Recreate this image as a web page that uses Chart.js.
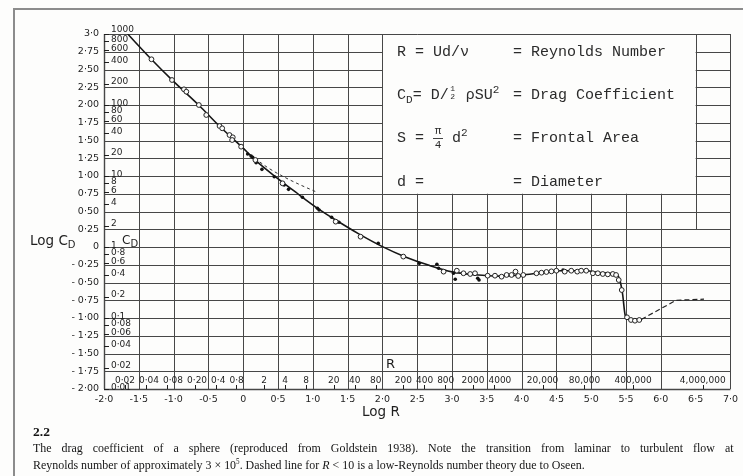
<!DOCTYPE html>
<html>
<head>
<meta charset="utf-8">
<script src="https://cdn.jsdelivr.net/npm/chart.js@4.4.0/dist/chart.umd.min.js"></script>
<style>
  html, body { margin: 0; padding: 0; background: #fff; }
  #page { position: relative; width: 743px; height: 476px; overflow: hidden; background: #fdfdfc; }
  #frame { position: absolute; left: 13px; top: 8px; width: 800px; height: 520px;
           border-top: 2px solid #8c8c8c; border-left: 2px solid #8c8c8c; }
  #chart { position: absolute; left: 0; top: 0; }
  .hand { position: absolute; font-family: "DejaVu Sans", sans-serif; color: #1e1e1e; white-space: nowrap; }
  .hand sub { font-size: 10px; position: relative; top: 3px; vertical-align: baseline; }
  .mono { position: absolute; font-family: "Liberation Mono", monospace; font-size: 15px;
          line-height: 15px; color: #2b2b2b; white-space: nowrap; }
  .mono .sub { font-size: 11px; position: relative; top: 4px; }
  .mono .sup { font-size: 11px; position: relative; top: -6px; }
  .frac { display: inline-block; position: relative; height: 0; vertical-align: baseline; }
  .frac .n, .frac .d { position: absolute; left: 0; width: 100%; text-align: center; }
  .frac .bar { position: absolute; left: 0; width: 100%; height: 1px; background: #444; }
  .caption { position: absolute; left: 33px; font-family: "Liberation Serif", serif; font-size: 13.5px;
             line-height: 17px; color: #151515; white-space: nowrap; transform-origin: 0 0; }
</style>
</head>
<body>
<div id="page">
  <div id="frame"></div>
  <canvas id="chart" width="743" height="476"></canvas>

  <!-- definitions printed inside the blank panel -->
  <div class="mono" style="left:397px; top:45px">R = Ud/ν</div>
  <div class="mono" style="left:513px; top:45px">= Reynolds Number</div>
  <div class="mono" style="left:397px; top:88px">C<span class="sub">D</span>= D/<span class="frac" style="width:8px"><span class="n" style="font-size:8px;line-height:8px;top:-14px">1</span><span class="bar" style="top:-6px;height:0"></span><span class="d" style="font-size:8px;line-height:8px;top:-6px">2</span></span> ρSU<span class="sup">2</span></div>
  <div class="mono" style="left:513px; top:88px">= Drag Coefficient</div>
  <div class="mono" style="left:397px; top:131px">S = <span class="frac" style="width:10px"><span class="n" style="font-size:11px;line-height:11px;top:-16px">π</span><span class="bar" style="top:-4px"></span><span class="d" style="font-size:11px;line-height:11px;top:-2px">4</span></span> d<span class="sup">2</span></div>
  <div class="mono" style="left:513px; top:131px">= Frontal Area</div>
  <div class="mono" style="left:397px; top:175px">d =</div>
  <div class="mono" style="left:513px; top:175px">= Diameter</div>

  <!-- axis titles -->
  <div class="hand" style="left:30px; top:232px; font-size:13.5px">Log C<sub>D</sub></div>
  <div class="hand" style="left:122px; top:233px; font-size:12px">C<sub>D</sub></div>
  <div class="hand" style="left:386px; top:356px; font-size:13px">R</div>
  <div class="hand" style="left:362px; top:403px; font-size:13.5px">Log R</div>

  <!-- figure caption -->
  <div class="caption" id="cap0" style="top:423px; font-weight:bold">2.2</div>
  <div class="caption" id="cap1" style="top:439px">The drag coefficient of a sphere (reproduced from Goldstein 1938). Note the transition from laminar to turbulent flow at a</div>
  <div class="caption" id="cap2" style="top:456px">Reynolds number of approximately 3 × 10<sup style="font-size:8px;line-height:0">5</sup>. Dashed line for <i>R</i> &lt; 10 is a low-Reynolds number theory due to Oseen.</div>
</div>

<script>
// ===============================
// DATA (log10 R, log10 Cd)
// ===============================

const curveLogR  = [-1.66, -1.32, -1.02, -0.64, -0.34, -0.03, 0.19, 0.47, 0.75, 1.09, 1.33, 1.66, 2.0, 2.33, 2.66,
                    3.0, 3.33, 3.67, 4.0, 4.29, 4.57, 4.9, 5.19, 5.37, 5.41, 5.45, 5.49, 5.55, 5.64, 5.72];
const curveLogCd = [3.0, 2.645, 2.35, 2.0, 1.70, 1.42, 1.21, 0.985, 0.775, 0.53, 0.38, 0.185, 0.005, -0.14, -0.255,
                    -0.35, -0.39, -0.41, -0.395, -0.36, -0.335, -0.335, -0.365, -0.395, -0.46, -0.66, -0.97, -1.02, -1.038, -1.02];

// dashed continuation past the drag crisis
const wakeLogR  = [5.72, 6.22, 6.62];
const wakeLogCd = [-1.02, -0.75, -0.735];

// Oseen low-Reynolds theory (dashed)
const oseenLogR  = [0.1, 0.35, 0.6, 0.82, 1.04];
const oseenLogCd = [1.30, 1.12, 0.98, 0.875, 0.78];

// open circles
const openLogR  = [-1.318, -1.023, -0.851, -0.817, -0.637, -0.531, -0.34, -0.302, -0.197, -0.15, -0.159, -0.03,
                   0.175, 0.565, 1.329, 1.686, 2.3, 2.879, 3.069, 3.165, 3.261, 3.33, 3.512, 3.617, 3.712, 3.784,
                   3.855, 3.912, 3.951, 4.023, 4.213, 4.285, 4.356, 4.428, 4.499, 4.619, 4.713, 4.799, 4.856, 4.928,
                   5.023, 5.095, 5.166, 5.238, 5.31, 5.357, 5.395, 5.438, 5.514, 5.571, 5.628, 5.69];
const openLogCd = [2.644, 2.352, 2.221, 2.187, 2.0, 1.859, 1.704, 1.672, 1.577, 1.545, 1.507, 1.413,
                   1.225, 0.897, 0.357, 0.145, -0.135, -0.347, -0.334, -0.37, -0.38, -0.37, -0.404, -0.404, -0.418, -0.394,
                   -0.394, -0.347, -0.408, -0.394, -0.37, -0.362, -0.352, -0.343, -0.334, -0.347, -0.334, -0.347, -0.334, -0.334,
                   -0.37, -0.37, -0.38, -0.385, -0.38, -0.394, -0.465, -0.606, -0.99, -1.028, -1.038, -1.028];

// filled dots
const dotLogR  = [0.064, 0.113, 0.136, 0.185, 0.269, 0.446, 0.588, 0.651, 0.851, 1.066, 1.09, 1.27, 1.376, 1.94,
                  2.53, 2.783, 2.807, 3.022, 3.046, 3.369, 3.388, 4.595];
const dotLogCd = [1.31, 1.28, 1.263, 1.187, 1.094, 0.99, 0.873, 0.812, 0.70, 0.545, 0.521, 0.418, 0.348, 0.052,
                  -0.23, -0.244, -0.30, -0.37, -0.455, -0.441, -0.465, -0.324];

// secondary scales printed inside the plot
const cdScaleValues = [1000, 800, 600, 400, 200, 100, 80, 60, 40, 20, 10, 8, 6, 4, 2, 1,
                       0.8, 0.6, 0.4, 0.2, 0.1, 0.08, 0.06, 0.04, 0.02, 0.01];
const cdScaleLabels = ["1000", "800", "600", "400", "200", "100", "80", "60", "40", "20", "10", "8", "6", "4", "2", "1",
                       "0·8", "0·6", "0·4", "0·2", "0·1", "0·08", "0·06", "0·04", "0·02", "0·01"];
const rScaleValues = [0.02, 0.04, 0.08, 0.2, 0.4, 0.8, 2, 4, 8, 20, 40, 80, 200, 400, 800, 2000, 4000,
                      20000, 80000, 400000, 4000000];
const rScaleLabels = ["0·02", "0·04", "0·08", "0·20", "0·4", "0·8", "2", "4", "8", "20", "40", "80", "200", "400",
                      "800", "2000", "4000", "20,000", "80,000", "400,000", "4,000,000"];

// blank panel holding the definitions (log R from/to, log Cd from/to)
const panelLogR = [2.0, 6.5];
const panelLogCd = [0.75, 3.0];

// ===============================
// HELPERS
// ===============================

const pts = (xs, ys) => xs.map((x, i) => ({ x, y: ys[i] }));
const HAND = '"DejaVu Sans", sans-serif';
const INK = "#1e1e1e";

function fmtX(v) {
  if (Math.abs(v) < 1e-9) return "0";
  const s = Math.abs(v).toFixed(1).replace(".", "·");
  return v < 0 ? "-" + s : s;
}

function fmtY(v) {
  if (Math.abs(v) < 1e-9) return "0";
  if (Math.abs(v - 3) < 1e-9) return "3·0";
  const s = Math.abs(v).toFixed(2).replace(".", "·");
  return v < 0 ? "- " + s : s;
}

// ===============================
// PLUGINS
// ===============================

const paperGrid = {
  id: "paperGrid",
  beforeDatasetsDraw(chart) {
    const { ctx, scales: { x, y } } = chart;
    const sharp = p => Math.round(p) + 0.5;
    ctx.save();
    ctx.strokeStyle = "#474747";

    for (let i = 0; i <= 18; i++) {
      const v = -2 + i * 0.5;
      let top = 3, bottom = -2;
      if (v > panelLogR[0] && v < panelLogR[1]) top = panelLogCd[0];
      if (v === panelLogR[1]) bottom = 0.25;
      const px = sharp(x.getPixelForValue(v));
      ctx.lineWidth = (i === 0) ? 1.4 : 1;
      ctx.beginPath();
      ctx.moveTo(px, y.getPixelForValue(top));
      ctx.lineTo(px, y.getPixelForValue(bottom));
      ctx.stroke();
    }

    for (let j = 0; j <= 20; j++) {
      const h = -2 + j * 0.25;
      const py = sharp(y.getPixelForValue(h));
      ctx.lineWidth = (j === 0) ? 1.4 : 1;
      ctx.beginPath();
      if (h > panelLogCd[0] && h < panelLogCd[1]) {
        ctx.moveTo(x.getPixelForValue(-2), py);
        ctx.lineTo(x.getPixelForValue(panelLogR[0]), py);
        ctx.moveTo(x.getPixelForValue(panelLogR[1]), py);
        ctx.lineTo(x.getPixelForValue(7), py);
      } else {
        ctx.moveTo(x.getPixelForValue(-2), py);
        ctx.lineTo(x.getPixelForValue(7), py);
      }
      ctx.stroke();
    }
    ctx.restore();
  }
};

const innerScales = {
  id: "innerScales",
  afterDatasetsDraw(chart) {
    const { ctx, scales: { x, y } } = chart;
    const left = x.getPixelForValue(-2);
    const top = y.getPixelForValue(3);
    const bottom = y.getPixelForValue(-2);
    ctx.save();
    ctx.fillStyle = INK;
    ctx.strokeStyle = INK;
    ctx.lineWidth = 1;
    ctx.font = "9px " + HAND;

    // Cd values along the left edge
    ctx.textAlign = "left";
    ctx.textBaseline = "middle";
    cdScaleValues.forEach((cd, i) => {
      const py = y.getPixelForValue(Math.log10(cd));
      ctx.beginPath();
      ctx.moveTo(left, Math.round(py) + 0.5);
      ctx.lineTo(left + 5, Math.round(py) + 0.5);
      ctx.stroke();
      const ty = Math.abs(py - top) < 1 ? py - 4 : py - 1.5;
      ctx.fillText(cdScaleLabels[i], left + 7, ty);
    });

    // R values along the bottom row
    ctx.textAlign = "center";
    let lastRight = -Infinity;
    rScaleValues.forEach((r, i) => {
      const px = x.getPixelForValue(Math.log10(r));
      ctx.beginPath();
      ctx.moveTo(Math.round(px) + 0.5, bottom);
      ctx.lineTo(Math.round(px) + 0.5, bottom - 4);
      ctx.stroke();
      const w = ctx.measureText(rScaleLabels[i]).width;
      let cx = px;
      if (cx - w / 2 < lastRight + 4) cx = lastRight + 4 + w / 2;
      lastRight = cx + w / 2;
      ctx.fillText(rScaleLabels[i], cx, bottom - 8);
    });
    ctx.restore();
  }
};

// ===============================
// CHART
// ===============================

new Chart(document.getElementById("chart"), {
  type: "scatter",
  data: {
    datasets: [
      {
        label: "open",
        data: pts(openLogR, openLogCd),
        pointStyle: "circle",
        pointRadius: 2.4,
        pointBackgroundColor: "#fdfdfc",
        pointBorderColor: "#222",
        pointBorderWidth: 1,
        order: 0
      },
      {
        label: "dots",
        data: pts(dotLogR, dotLogCd),
        pointRadius: 1.8,
        pointBackgroundColor: "#111",
        pointBorderColor: "#111",
        pointBorderWidth: 0,
        order: 0
      },
      {
        type: "line",
        label: "curve",
        data: pts(curveLogR, curveLogCd),
        borderColor: "#161616",
        borderWidth: 1.6,
        pointRadius: 0,
        cubicInterpolationMode: "monotone",
        order: 1
      },
      {
        type: "line",
        label: "wake",
        data: pts(wakeLogR, wakeLogCd),
        borderColor: "#222",
        borderWidth: 1.2,
        borderDash: [5, 3],
        pointRadius: 0,
        tension: 0,
        order: 1
      },
      {
        type: "line",
        label: "oseen",
        data: pts(oseenLogR, oseenLogCd),
        borderColor: "#333",
        borderWidth: 1,
        borderDash: [3, 3],
        pointRadius: 0,
        cubicInterpolationMode: "monotone",
        order: 1
      }
    ]
  },
  options: {
    responsive: false,
    animation: false,
    events: [],
    devicePixelRatio: 1,
    layout: { padding: { left: 64, right: 10, top: 34, bottom: 67 } },
    plugins: { legend: { display: false }, tooltip: { enabled: false } },
    scales: {
      x: {
        type: "linear",
        min: -2,
        max: 7,
        grid: { display: false, drawTicks: false },
        border: { display: false },
        afterFit: scale => { scale.height = 20; },
        ticks: {
          stepSize: 0.5,
          maxTicksLimit: 100,
          autoSkip: false,
          maxRotation: 0,
          padding: 5,
          color: INK,
          font: { family: HAND, size: 9.5 },
          callback: fmtX
        }
      },
      y: {
        type: "linear",
        min: -2,
        max: 3,
        grid: { display: false, drawTicks: false },
        border: { display: false },
        afterFit: scale => { scale.width = 40; },
        ticks: {
          stepSize: 0.25,
          maxTicksLimit: 100,
          autoSkip: false,
          padding: 5,
          color: INK,
          font: { family: HAND, size: 9.5 },
          callback: fmtY
        }
      }
    }
  },
  plugins: [paperGrid, innerScales]
});

// ===============================
// CAPTION FITTING
// ===============================

// last line is set tight, first line is justified to a column wider than the crop
const cap1 = document.getElementById("cap1");
const cap2 = document.getElementById("cap2");
const squeeze = 552 / cap2.scrollWidth;
const spaces = (cap1.textContent.match(/ /g) || []).length;
const extra = (716 / squeeze - cap1.scrollWidth) / spaces;
cap1.style.wordSpacing = Math.max(0, extra) + "px";
cap1.style.transform = "scaleX(" + squeeze + ")";
cap2.style.transform = "scaleX(" + squeeze + ")";
</script>
</body>
</html>
